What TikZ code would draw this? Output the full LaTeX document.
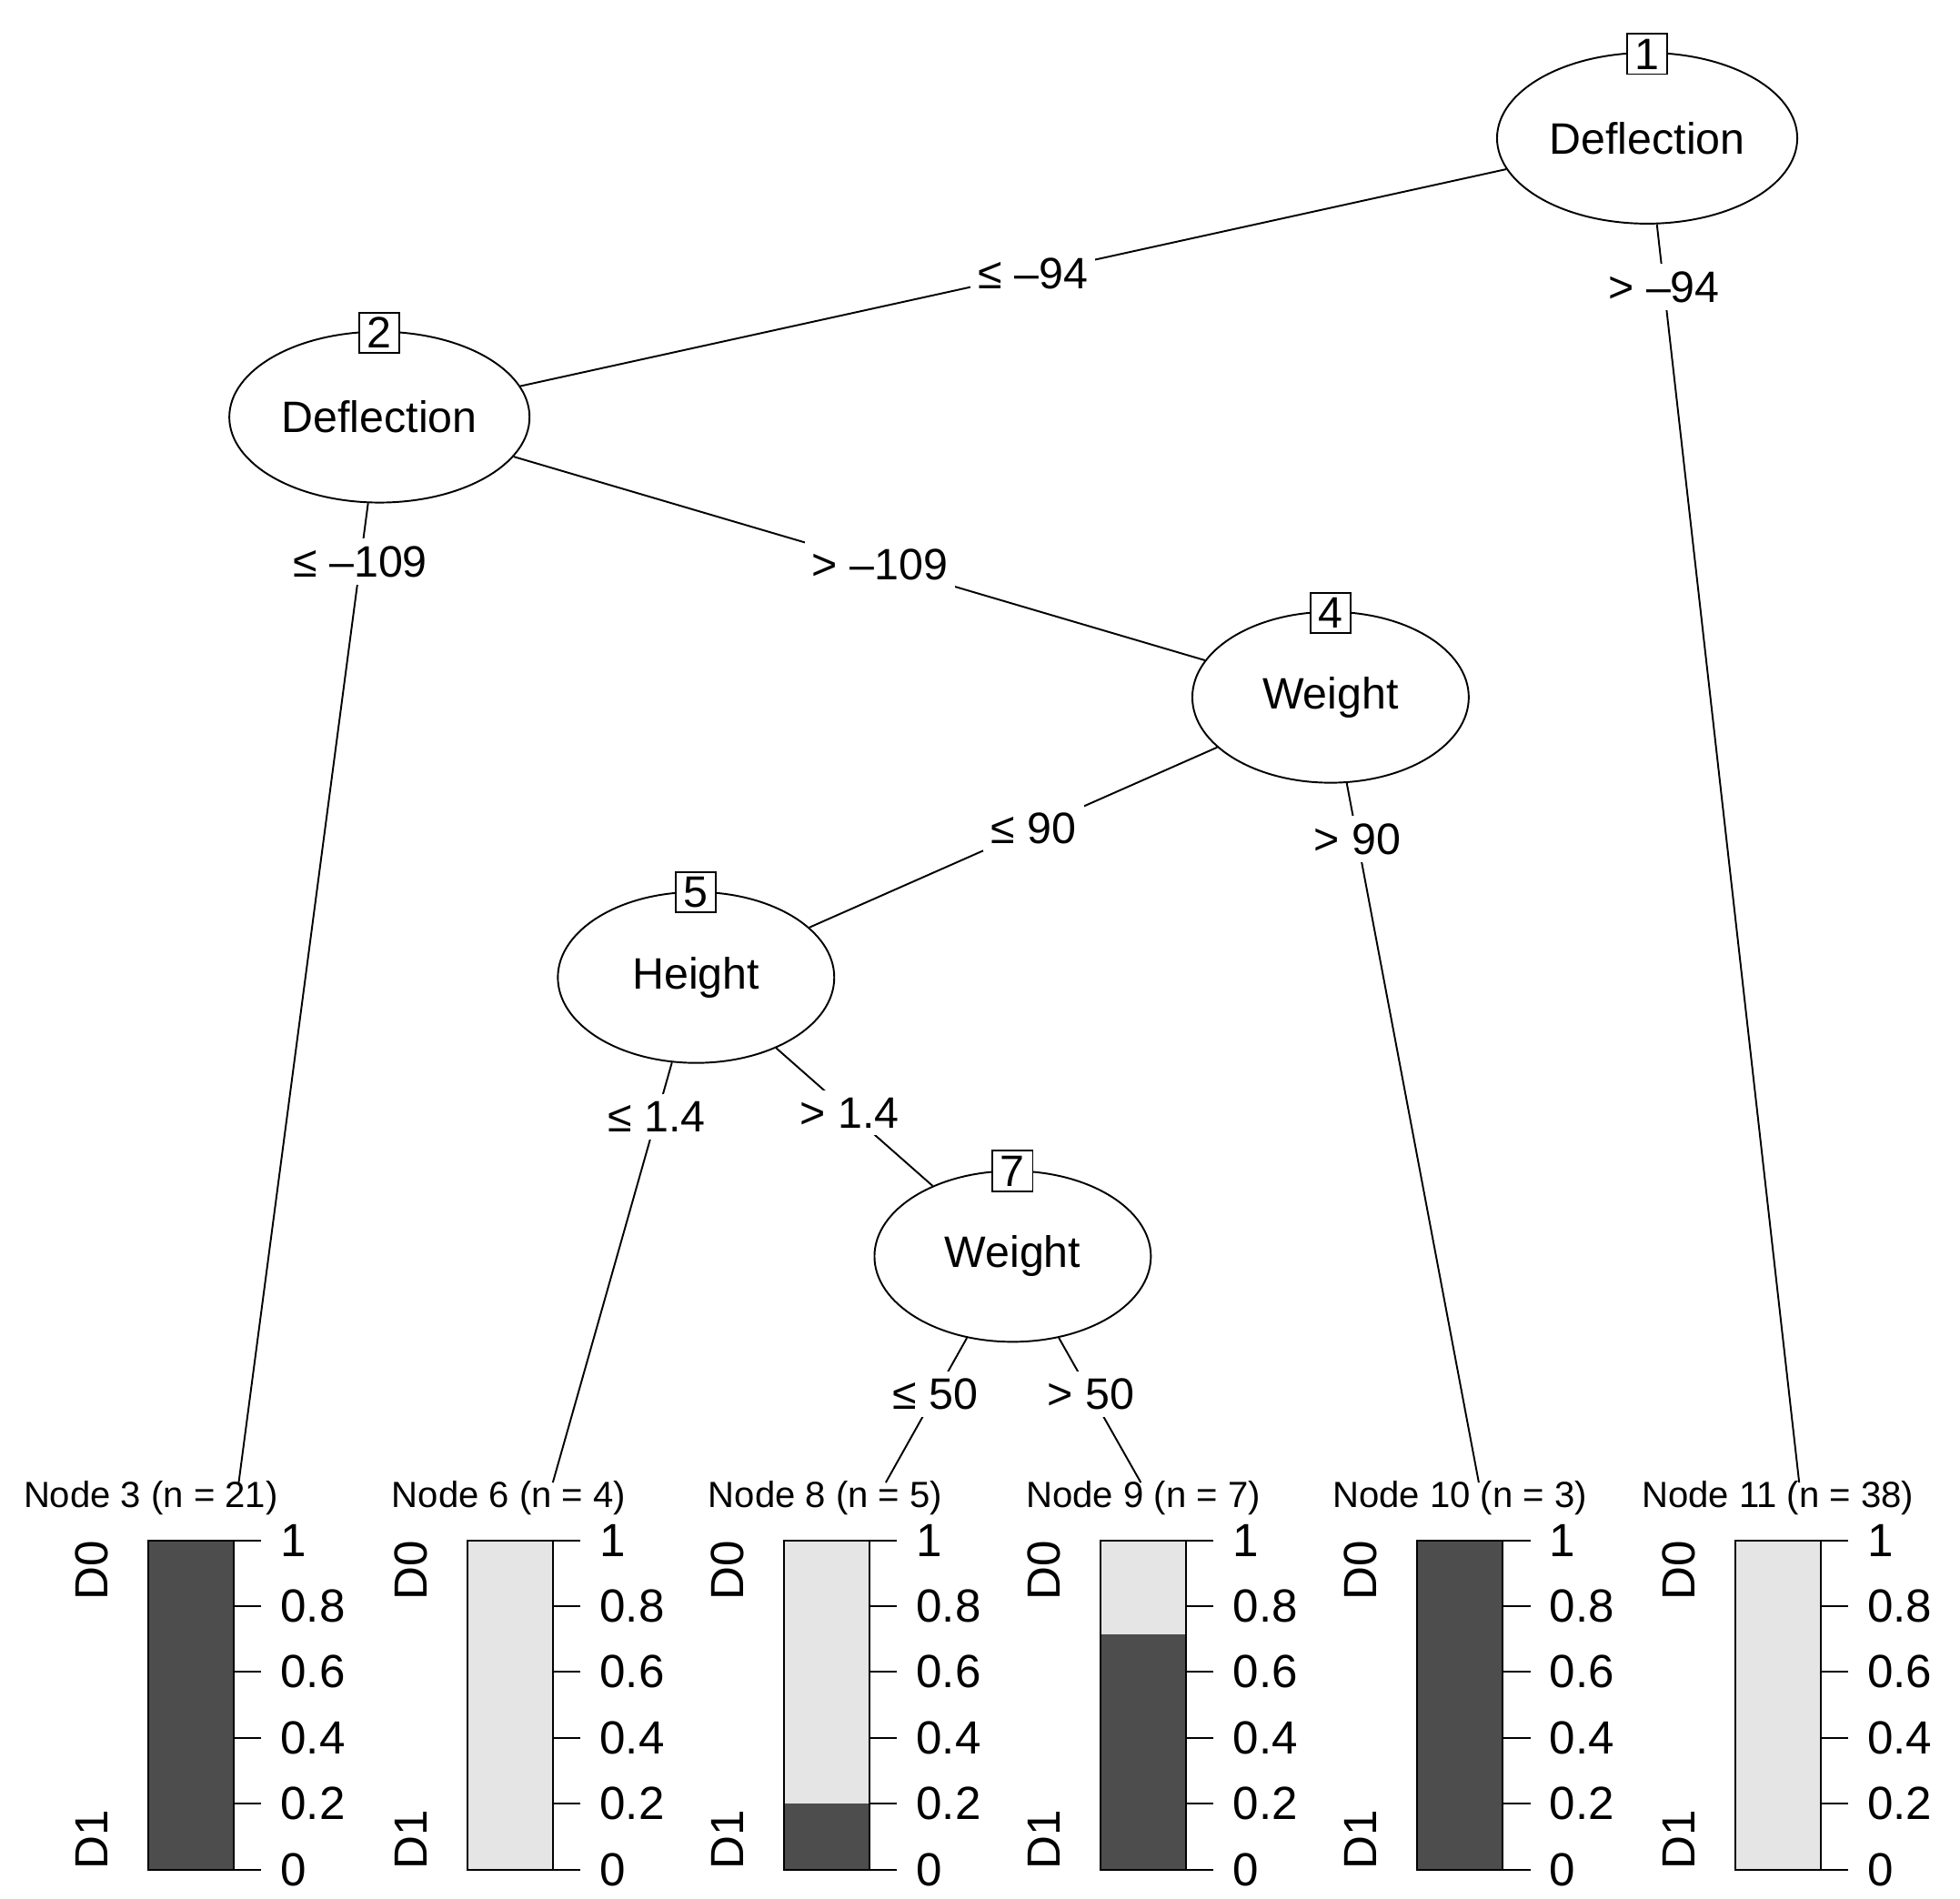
\documentclass[tikz,border=0pt]{standalone}
\usepackage{fontspec}
\setmainfont{Liberation Sans}
\usetikzlibrary{shapes.geometric}
\definecolor{dk}{HTML}{4D4D4D}
\definecolor{lt}{HTML}{E5E5E5}
\begin{document}
\begin{tikzpicture}[x=0.5pt,y=-0.5pt,line width=0.7pt,
  inner/.style={ellipse,draw,minimum width=220\pgflinewidth*0+110pt,minimum height=68pt,font=\fontsize{17.5}{20}\selectfont},
  num/.style={draw,fill=white,minimum size=16pt,inner sep=0pt,font=\fontsize{17.5}{20}\selectfont},
  lbl/.style={fill=white,inner sep=3pt,font=\fontsize{17.5}{20}\selectfont},
  ttl/.style={font=\fontsize{14.5}{16}\selectfont},
  tk/.style={font=\fontsize{18.5}{20}\selectfont,anchor=west}]
\useasboundingbox (0,0) rectangle (1560,1511);
\node[inner] (n1) at (1311,110) {Deflection};
\node[num] (b1) at (1311,43) {1};
\node[inner] (n2) at (302,332) {Deflection};
\node[num] (b2) at (302,265) {2};
\node[inner] (n4) at (1059,555) {Weight};
\node[num] (b4) at (1059,488) {4};
\node[inner] (n5) at (554,778) {Height};
\node[num] (b5) at (554,710) {5};
\node[inner] (n7) at (806,1000) {Weight};
\node[num] (b7) at (806,932) {7};
% leaves
\foreach \nm/\lx/\tx/\ex/\frac/\top/\bot in {3/118/120/190/1/dk/dk, 6/372/405/440/0/lt/lt, 8/624/657/705/0.2/lt/dk, 9/876/910/908/0.714/lt/dk, 10/1128/1162/1177/1/dk/dk, 11/1381/1415/1432/0/lt/lt}{
  \node[ttl] (t\nm) at (\tx,1192) {Node \nm\ (n = \ifcase\nm\or\or\or21\or\or\or4\or\or5\or7\or3\or38\fi)};
  \coordinate (e\nm) at (\ex,1180);
  \fill[\top] (\lx,1226) rectangle (\lx+68,1488);
  \fill[\bot] (\lx,1488) rectangle (\lx+68,1488-262*\frac);
  \draw (\lx,1226) rectangle (\lx+68,1488);
  \foreach \v/\s in {0/0,0.2/0.2,0.4/0.4,0.6/0.6,0.8/0.8,1/1}{
    \draw (\lx+68,1488-262*\v) -- (\lx+90,1488-262*\v);
    \node[tk] at (\lx+98,1488-262*\v) {\s};}
  \node[tk,rotate=90,anchor=center] at (\lx-45,1250) {D0};
  \node[tk,rotate=90,anchor=center] at (\lx-45,1464) {D1};
}
\draw (n1) -- node[lbl,pos=0.48] {≤ –94} (n2);
\draw (n1) -- node[lbl,pos=0.05] {> –94} (e11);
\draw (n2) -- node[lbl,pos=0.06] {≤ –109} (e3);
\draw (n2) -- node[lbl,pos=0.53] {> –109} (n4);
\draw (n4) -- node[lbl,pos=0.45] {≤ 90} (n5);
\draw (n4) -- node[lbl,pos=0.08] {> 90} (e10);
\draw (n5) -- node[lbl,pos=0.13] {≤ 1.4} (e6);
\draw (n5) -- node[lbl,pos=0.47] {> 1.4} (n7);
\draw (n7) -- node[lbl,pos=0.39] {≤ 50} (e8);
\draw (n7) -- node[lbl,pos=0.39] {> 50} (e9);
\end{tikzpicture}
\end{document}
